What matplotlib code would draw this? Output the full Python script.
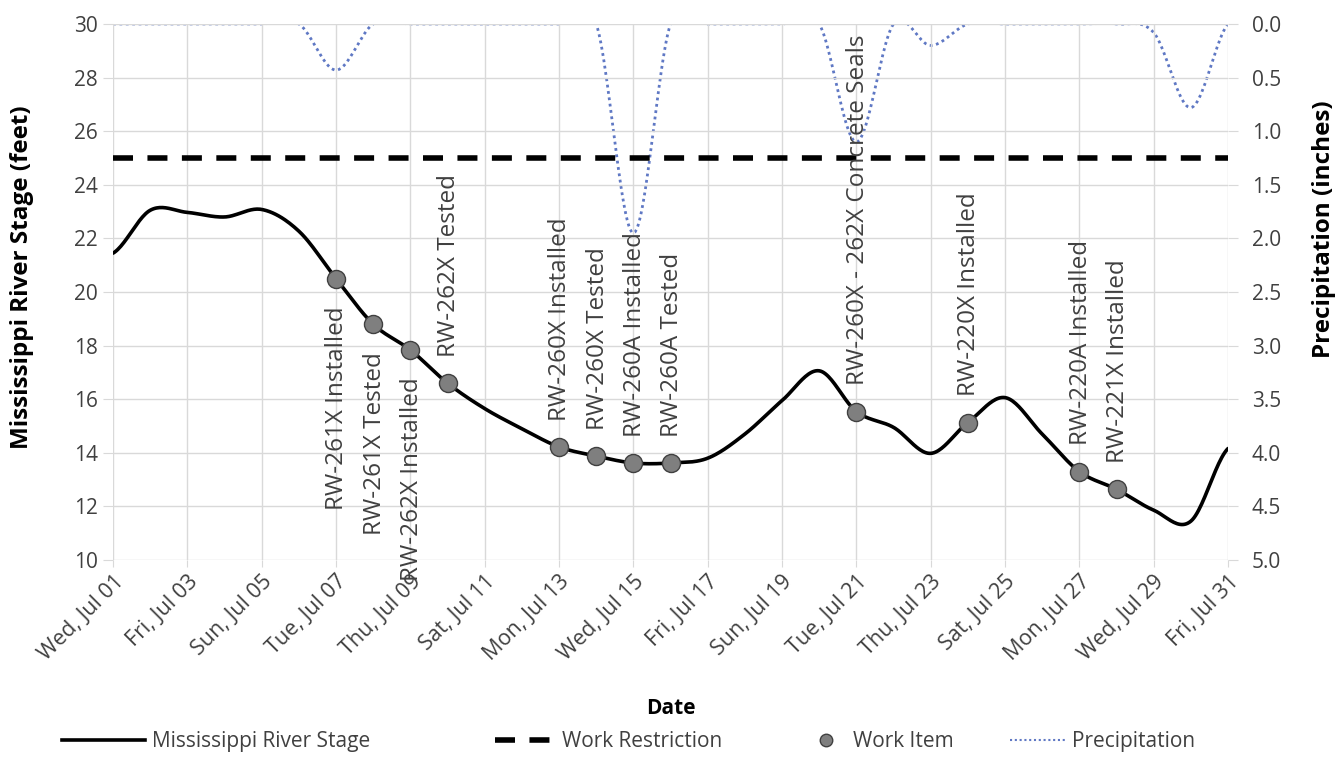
import datetime as dt
import numpy as np
import matplotlib
matplotlib.use('Agg')
import matplotlib.pyplot as plt
import matplotlib.dates as mdates
from matplotlib.lines import Line2D

plt.rcParams['font.family'] = ['Open Sans', 'DejaVu Sans']

# ---- data ----
start = dt.date(2015, 7, 1)
dates = [start + dt.timedelta(days=i) for i in range(31)]

stage_ft = [21.45, 23.05, 22.97, 22.80, 23.08, 22.27, 20.50, 18.80, 17.84, 16.60,
            15.65, 14.90, 14.22, 13.88, 13.62, 13.62, 13.80, 14.70, 15.95, 17.06,
            15.54, 14.95, 13.98, 15.13, 16.06, 14.70, 13.30, 12.64, 11.86, 11.45,
            14.16]

precip_in = [0, 0, 0, 0, 0, 0, 0.43, 0, 0, 0,
             0, 0, 0, 0, 1.95, 0, 0, 0, 0, 0,
             1.10, 0, 0.20, 0, 0, 0, 0, 0, 0.08, 0.78,
             0]

restriction_ft = 25

work_days = [7, 8, 9, 10, 13, 14, 15, 16, 21, 24, 27, 28]
work_labels = ['RW-261X Installed', 'RW-261X Tested', 'RW-262X Installed',
               'RW-262X Tested', 'RW-260X Installed', 'RW-260X Tested',
               'RW-260A Installed', 'RW-260A Tested',
               'RW-260X - 262X Concrete Seals', 'RW-220X Installed',
               'RW-220A Installed', 'RW-221X Installed']
# labels drawn under the point instead of above
labels_below = {'RW-261X Installed', 'RW-261X Tested', 'RW-262X Installed'}


def smooth(x, y, n=24):
    """Excel-like smoothed line (Catmull-Rom through the points)."""
    x = np.asarray(x, float)
    y = np.asarray(y, float)
    m = np.empty_like(y)
    m[1:-1] = (y[2:] - y[:-2]) / 2
    m[0] = (y[1] - y[0]) / 2
    m[-1] = (y[-1] - y[-2]) / 2
    xs, ys = [], []
    t = np.linspace(0, 1, n, endpoint=False)
    h00 = 2 * t**3 - 3 * t**2 + 1
    h10 = t**3 - 2 * t**2 + t
    h01 = -2 * t**3 + 3 * t**2
    h11 = t**3 - t**2
    for i in range(len(x) - 1):
        xs.append(x[i] + t * (x[i + 1] - x[i]))
        ys.append(h00 * y[i] + h10 * m[i] + h01 * y[i + 1] + h11 * m[i + 1])
    xs.append([x[-1]])
    ys.append([y[-1]])
    return np.concatenate(xs), np.concatenate(ys)


W, H = 1338, 757
xnum = mdates.date2num(dates)

fig = plt.figure(figsize=(W / 100, H / 100), dpi=100)
ax = fig.add_axes([0.0845, 0.2602, 0.8333, 0.7081])
ax2 = ax.twinx()
ax.set_zorder(ax2.get_zorder() + 1)
ax.patch.set_visible(False)

grid_c = '#d9d9d9'
txt_c = '#404040'
rain_c = '#5f78c4'
rain_ls = (0, (1, 1.3))
dash_ls = (0, (3.6, 2.6))

# precipitation on secondary axis (inverted)
px, py = smooth(xnum, precip_in)
ax2.plot(px, py, color=rain_c, linestyle=rain_ls, linewidth=2.0)
ax2.set_ylim(5, 0)
ax2.set_yticks(np.arange(0, 5.01, 0.5))
ax2.set_yticklabels([f'{v:.1f}' for v in np.arange(0, 5.01, 0.5)])

# river stage
sx, sy = smooth(xnum, stage_ft)
ax.plot(sx, sy, color='black', linewidth=2.6, solid_capstyle='round', zorder=3)

# work restriction
ax.plot([xnum[0], xnum[-1]], [restriction_ft, restriction_ft], color='black',
        linewidth=4, linestyle=dash_ls, zorder=3)

# work items
wx = [xnum[d - 1] for d in work_days]
wy = [stage_ft[d - 1] for d in work_days]
ax.plot(wx, wy, 'o', markersize=13, markerfacecolor='#7f7f7f',
        markeredgecolor='#404040', markeredgewidth=1.0, linestyle='none', zorder=4)

for x, y, lbl in zip(wx, wy, work_labels):
    if lbl in labels_below:
        off, va = -20, 'top'
    else:
        off, va = 19, 'bottom'
    ax.annotate(lbl, xy=(x, y), xytext=(1, off), textcoords='offset points',
                rotation=90, ha='center', va=va, fontsize=17.5,
                color=txt_c, zorder=5)

ax.set_xlim(xnum[0], xnum[-1])
ax.set_ylim(10, 30)
ax.set_yticks(range(10, 31, 2))
ax.xaxis.set_major_locator(mdates.DayLocator(bymonthday=range(1, 32, 2)))
ax.xaxis.set_major_formatter(mdates.DateFormatter('%a, %b %d'))
ax.grid(True, color=grid_c, linewidth=1.0)
ax.set_axisbelow(True)

for a in (ax, ax2):
    for s in a.spines.values():
        s.set_visible(False)
    a.tick_params(color=grid_c, labelsize=15, labelcolor=txt_c)
ax.tick_params(axis='y', length=7, pad=4)
ax2.tick_params(axis='y', length=7, pad=10)
ax.tick_params(axis='x', length=5, labelsize=15.5, pad=3)

for lbl in ax.get_xticklabels():
    lbl.set_rotation(45)
    lbl.set_ha('right')
    lbl.set_rotation_mode('anchor')

ax.set_xlabel('Date', fontsize=15, fontweight='bold')
ax.xaxis.set_label_coords(0.5, (560 - 698) / 536)
ax.set_ylabel('Mississippi River Stage (feet)', fontsize=17.5, fontweight='bold')
ax.yaxis.set_label_coords((34 - 113) / 1115, 0.528)
ax2.set_ylabel('Precipitation (inches)', fontsize=17.5, fontweight='bold')
ax2.yaxis.set_label_coords((1312 - 113) / 1115, 0.618)

# legend, one entry at a time so each sits where the reference has it
entries = [
    (Line2D([], [], color='black', linewidth=2.6), 'Mississippi River Stage', 62, 4.0),
    (Line2D([], [], color='black', linewidth=4, linestyle=dash_ls), 'Work Restriction', 495, 2.9),
    (Line2D([], [], marker='o', markersize=9, markerfacecolor='#7f7f7f',
            markeredgecolor='#404040', linestyle='none'), 'Work Item', 805, 2.0),
    (Line2D([], [], color=rain_c, linestyle=rain_ls, linewidth=1.5), 'Precipitation', 1010, 2.7),
]
for handle, name, x_px, hl in entries:
    fig.legend([handle], [name], loc='center left', bbox_to_anchor=(x_px / W, 0.02),
               frameon=False, fontsize=15, handlelength=hl, handletextpad=0.3,
               borderpad=0, borderaxespad=0, labelcolor=txt_c)

fig.savefig('out.png', dpi=100)
